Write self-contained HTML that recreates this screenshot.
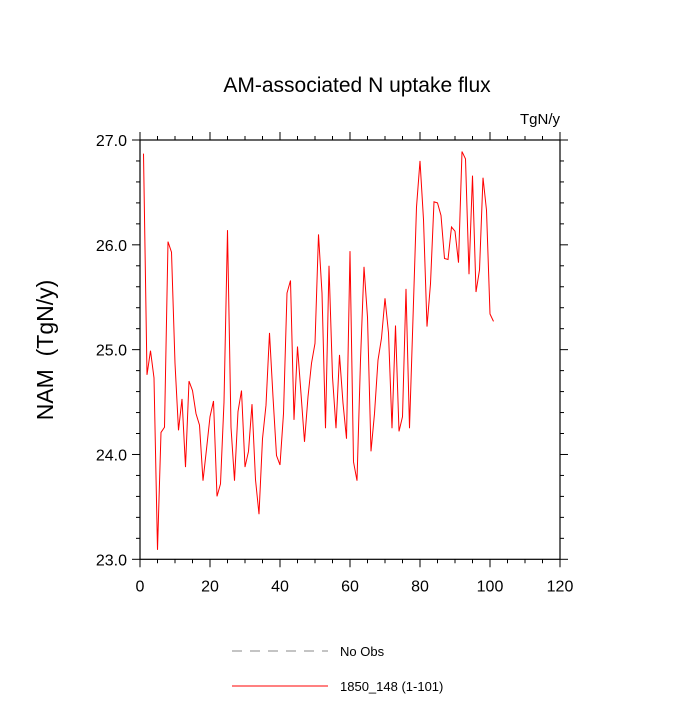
<!DOCTYPE html>
<html><head><meta charset="utf-8"><style>
body{margin:0;background:#fff;}
svg text{font-family:"Liberation Sans",sans-serif;}
</style></head><body>
<svg id="chart" width="700" height="700" xmlns="http://www.w3.org/2000/svg">
<text x="357" y="92" font-size="21" text-anchor="middle">AM-associated N uptake flux</text>
<text x="560" y="124" font-size="15" text-anchor="end">TgN/y</text>
<text transform="translate(53,350) rotate(-90)" font-size="23" text-anchor="middle" style="white-space:pre">NAM  (TgN/y)</text>
<g id="axes"></g>
<g id="series"></g>
<g>
<line x1="232" y1="651" x2="328" y2="651" stroke="#888" stroke-width="1" stroke-dasharray="10,8"/>
<text x="340" y="656" font-size="13">No Obs</text>
<line x1="232" y1="686" x2="328" y2="686" stroke="#f00" stroke-width="1"/>
<text x="340" y="691" font-size="13">1850_148 (1-101)</text>
</g>
</svg>
<script>
const years = Array.from({length:101},(_, k)=>k+1);
const values = [26.87,24.76,24.99,24.73,23.09,24.21,24.26,26.03,25.93,24.87,
24.23,24.53,23.88,24.70,24.61,24.39,24.28,23.75,24.05,24.36,
24.51,23.60,23.72,24.50,26.14,24.26,23.75,24.41,24.61,23.88,
24.03,24.48,23.76,23.43,24.15,24.47,25.16,24.55,23.99,23.90,
24.39,25.54,25.66,24.33,25.03,24.58,24.12,24.55,24.87,25.06,
26.10,25.54,24.25,25.80,24.74,24.25,24.95,24.49,24.15,25.94,
23.93,23.75,24.90,25.79,25.31,24.03,24.39,24.90,25.11,25.49,
25.16,24.25,25.23,24.22,24.36,25.58,24.25,25.30,26.36,26.80,
26.24,25.22,25.63,26.41,26.40,26.28,25.87,25.86,26.17,26.13,
25.83,26.89,26.82,25.72,26.66,25.55,25.76,26.64,26.33,25.34,25.27];
const xTicks = [0,20,40,60,80,100,120];
const yTicks = [23.0,24.0,25.0,26.0,27.0];
const X0=140,X1=560,Y0=559.3,Y1=140;
const xMin=0,xMax=120,yMin=23,yMax=27;
const sx=v=>X0+(v-xMin)/(xMax-xMin)*(X1-X0);
const sy=v=>Y0-(v-yMin)/(yMax-yMin)*(Y0-Y1);
const NS="http://www.w3.org/2000/svg";
const axes=document.getElementById('axes');
function ln(x1,y1,x2,y2,w,name){const l=document.createElementNS(NS,'line');
l.setAttribute('x1',x1);l.setAttribute('y1',y1);l.setAttribute('x2',x2);l.setAttribute('y2',y2);
l.setAttribute('stroke','#000');l.setAttribute('stroke-width',w);


axes.appendChild(l);}
const fr=document.createElementNS(NS,'rect');
fr.setAttribute('x',X0);fr.setAttribute('y',Y1);fr.setAttribute('width',X1-X0);fr.setAttribute('height',Y0-Y1);
fr.setAttribute('fill','none');fr.setAttribute('stroke','#000');fr.setAttribute('stroke-width','1.2');


axes.appendChild(fr);
for(let v=0;v<=120;v+=5){const x=sx(v);const L=(v%20===0)?8:4;
 ln(x,Y0,x,Y0+L,1,'x-tick');ln(x,Y1,x,Y1-L,1,'x-tick-top');}
for(let k=0;k<=20;k++){const v=23+k*0.2;const y=sy(v);const L=(k%5===0)?8:4;
 ln(X0,y,X0-L,y,1,'y-tick');ln(X1,y,X1+L,y,1,'y-tick-right');}
xTicks.forEach(v=>{const t=document.createElementNS(NS,'text');
 t.setAttribute('x',sx(v));t.setAttribute('y',Y0+32);t.setAttribute('font-size','16');t.setAttribute('text-anchor','middle');
 t.textContent=v;
 
 
 axes.appendChild(t);});
yTicks.forEach(v=>{const t=document.createElementNS(NS,'text');
 t.setAttribute('x',X0-13);t.setAttribute('y',sy(v)+6);t.setAttribute('font-size','16');t.setAttribute('text-anchor','end');
 t.textContent=v.toFixed(1);
 
 
 axes.appendChild(t);});
const p=document.createElementNS(NS,'polyline');
p.setAttribute('points',years.map((yr,k)=>sx(yr)+','+sy(values[k])).join(' '));
p.setAttribute('fill','none');p.setAttribute('stroke','#f00');p.setAttribute('stroke-width','1');


document.getElementById('series').appendChild(p);
</script>
</body></html>
